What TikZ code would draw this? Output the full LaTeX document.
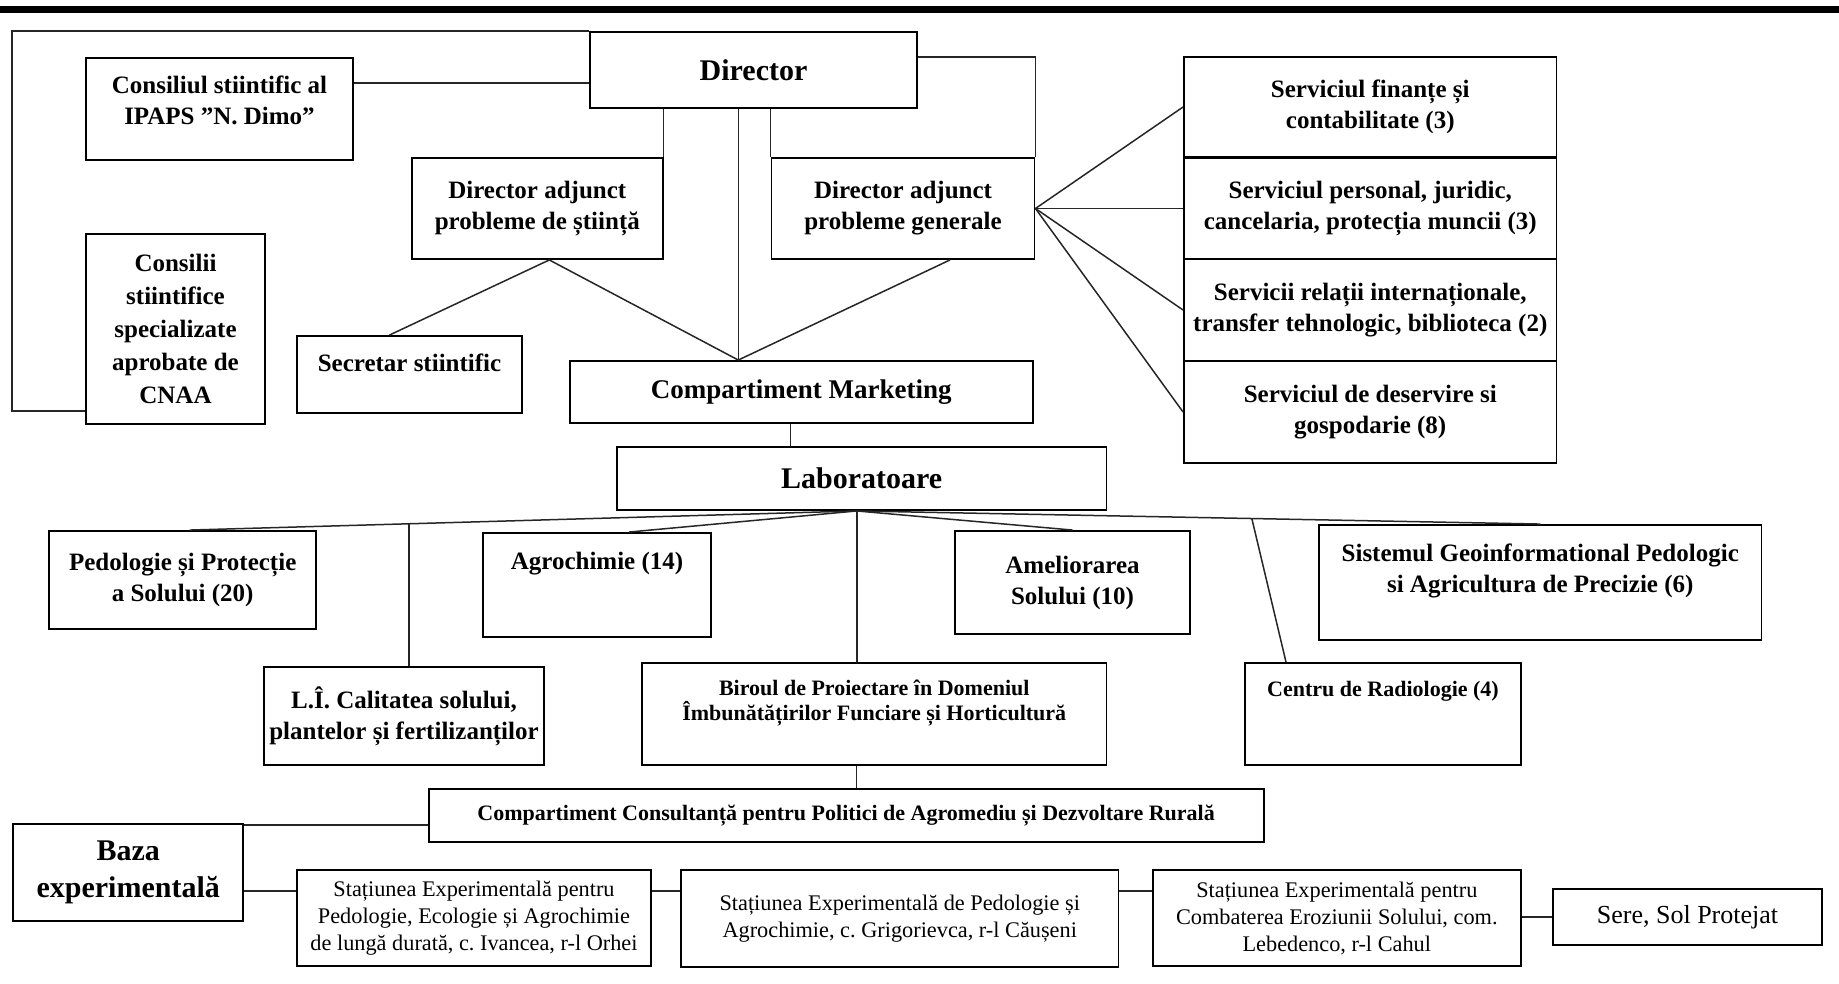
\documentclass[tikz,border=0pt]{standalone}
\usepackage{fontspec}
\setmainfont{Liberation Serif}
\usepackage{tikz}
\usetikzlibrary{calc}
\frenchspacing
\newcommand{\fsz}[2]{\fontsize{#1}{#2}\selectfont}
\tikzset{
  box/.style={draw=black, line width=1.9pt, align=center, inner sep=0pt, font=\bfseries\fsz{25}{31}},
  big/.style={font=\bfseries\fsz{30}{37}},
  small/.style={font=\bfseries\fsz{22}{25}},
  plain/.style={font=\fsz{22.3}{27}},
  link/.style={draw=black!85, line width=1.5pt},
  bar/.style={fill=black},
}

\begin{document}
\begin{tikzpicture}[x=1pt,y=-1pt]
  \useasboundingbox (0,0) rectangle (1839,983);
  \fill[bar] (0,6) rectangle (1839,12.5);

  % conducere
  \node[box,big,minimum width=327pt,minimum height=76pt] (dir) at (753.5,70) {Director};
  \node[box,minimum width=267pt,minimum height=102pt,text height=66.6pt,text depth=35.4pt] (csi) at (219.5,109) {Consiliul stiintific al\\IPAPS ”N. Dimo”};
  \node[box,font=\bfseries\fsz{25}{33},minimum width=179pt,minimum height=190pt] (css) at (175.5,329) {Consilii\\stiintifice\\specializate\\aprobate de\\CNAA};
  \node[box,minimum width=250.6pt,minimum height=101pt] (das) at (537.3,208.5) {Director adjunct\\probleme de știință};
  \node[box,minimum width=263pt,minimum height=101pt] (dag) at (903,208.5) {Director adjunct\\probleme generale};
  \node[box,minimum width=225pt,minimum height=77pt,text height=35.6pt,text depth=41.4pt] (sec) at (409.5,374.5) {Secretar stiintific};
  \node[box,font=\bfseries\fsz{27}{31},minimum width=462.6pt,minimum height=62pt] (mkt) at (801.3,392) {Compartiment Marketing};

  % servicii
  \node[box,minimum width=372.5pt,minimum height=100pt] (sv1) at (1370.25,107) {Serviciul finanțe și\\contabilitate (3)};
  \node[box,minimum width=372.5pt,minimum height=101pt] (sv2) at (1370.25,208.5) {Serviciul personal, juridic,\\cancelaria, protecția muncii (3)};
  \node[box,minimum width=372.5pt,minimum height=102pt] (sv3) at (1370.25,310) {Servicii relații internaționale,\\transfer tehnologic, biblioteca (2)};
  \node[box,minimum width=372.5pt,minimum height=102pt] (sv4) at (1370.25,412) {Serviciul de deservire si\\gospodarie (8)};

  % laboratoare
  \node[box,big,minimum width=489.5pt,minimum height=63pt] (lab) at (861.75,478.5) {Laboratoare};
  \node[box,minimum width=266.6pt,minimum height=98pt] (ped) at (182.7,580) {Pedologie și Protecție\\a Solului (20)};
  \node[box,minimum width=228pt,minimum height=104pt,text height=36pt,text depth=68pt] (agr) at (597,585) {Agrochimie (14)};
  \node[box,minimum width=235pt,minimum height=103pt] (ame) at (1072.5,582.5) {Ameliorarea\\Solului (10)};
  \node[box,minimum width=442.5pt,minimum height=115pt,text height=67.6pt,text depth=47.4pt] (sgp) at (1540.25,582.5) {Sistemul Geoinformational Pedologic\\si Agricultura de Precizie (6)};
  \node[box,minimum width=280pt,minimum height=98pt] (li) at (404,716) {L.Î. Calitatea solului,\\plantelor și fertilizanților};
  \node[box,small,minimum width=464.5pt,minimum height=102pt,text height=57.4pt,text depth=44.6pt] (bir) at (874.25,714) {Biroul de Proiectare în Domeniul\\Îmbunătățirilor Funciare și Horticultură};
  \node[box,small,minimum width=276pt,minimum height=102pt,text height=33.5pt,text depth=68.5pt] (cen) at (1383,714) {Centru de Radiologie (4)};
  \node[box,small,minimum width=835pt,minimum height=53pt] (con) at (846.1,815.5) {Compartiment Consultanță pentru Politici de Agromediu și Dezvoltare Rurală};

  % baza experimentala
  \node[box,big,minimum width=229.6pt,minimum height=97pt] (baza) at (128.2,872.5) {Baza\\experimentală};
  \node[box,plain,minimum width=354pt,minimum height=96pt] (s1) at (474,918) {Stațiunea Experimentală pentru\\Pedologie, Ecologie și Agrochimie\\de lungă durată, c. Ivancea, r-l Orhei};
  \node[box,plain,minimum width=437.5pt,minimum height=97pt] (s2) at (899.75,918.5) {Stațiunea Experimentală de Pedologie și\\Agrochimie, c. Grigorievca, r-l Căușeni};
  \node[box,plain,minimum width=368.4pt,minimum height=96pt] (s3) at (1336.8,918) {Stațiunea Experimentală pentru\\Combaterea Eroziunii Solului, com.\\Lebedenco, r-l Cahul};
  \node[box,font=\fsz{26}{30},minimum width=269pt,minimum height=56pt] (sere) at (1687.5,917) {Sere, Sol Protejat};

  % legaturi conducere
  \coordinate (frm) at (12,411);
  \draw[link] (dir.north west) -| (frm) -- (frm -| css.west);
  \coordinate (csr) at ([yshift=26pt]csi.east);
  \draw[link] (csr) -- (csr -| dir.west);
  \draw[link] ([yshift=13pt]dir.east) -| (dag.north east);
  \draw[link] (das.north east) -- (das.north east |- dir.south);
  \draw[link] (dag.north west) -- (dag.north west |- dir.south);
  \coordinate (mkin) at ([xshift=-63pt]mkt.north);
  \coordinate (dsb) at ([xshift=12pt]das.south);
  \draw[link] (mkin) -- (mkin |- dir.south);
  \draw[link] ([xshift=-20pt]sec.north) -- (dsb) -- (mkin);
  \draw[link] ([xshift=47pt]dag.south) -- (mkin);
  \foreach \s in {sv1,sv2,sv3,sv4}
    \draw[link] (dag.east) -- (\s.west);
  \coordinate (mkb) at ([xshift=-11pt]mkt.south);
  \draw[link] (mkb) -- (mkb |- lab.north);

  % legaturi laboratoare
  \coordinate (lapx) at ([xshift=-5pt]lab.south);
  \coordinate (pedtop) at ([xshift=7pt]ped.north);
  \draw[link] (lapx) -- (pedtop);
  \draw[link] (lapx) -- ([xshift=32pt]agr.north);
  \draw[link] (lapx) -- (lapx |- bir.north);
  \draw[link] (lapx) -- (ame.north);
  \draw[link] (lapx) -- (sgp.north);
  \coordinate (lijn) at ($(lapx)!0.6712!(pedtop)$);
  \draw[link] (lijn) -- (lijn |- li.north);
  \coordinate (cjn) at ($(lapx)!0.578!(sgp.north)$);
  \draw[link] (cjn) -- ([xshift=-97pt]cen.north);

  % legaturi jos
  \coordinate (birb) at ([xshift=-18pt]bir.south);
  \draw[link] (birb) -- (birb |- con.north);
  \coordinate (bzt) at ([yshift=-2pt]baza.north east);
  \draw[link] (bzt) -- (bzt -| con.west);
  \coordinate (brow) at (0,891);
  \draw[link] (baza.east |- brow) -- (s1.west |- brow);
  \draw[link] (s1.east |- brow) -- (s2.west |- brow);
  \draw[link] (s2.east |- brow) -- (s3.west |- brow);
  \draw[link] (sere.west -| s3.east) -- (sere.west);
\end{tikzpicture}
\end{document}
